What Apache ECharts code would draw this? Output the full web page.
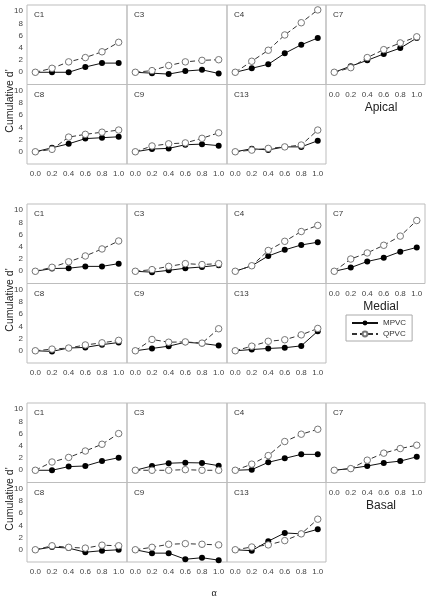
<!DOCTYPE html>
<html><head><meta charset="utf-8">
<script src="https://cdn.jsdelivr.net/npm/echarts@6/dist/echarts.min.js"></script>
<style>html,body{margin:0;padding:0;background:#fff}#c{width:432px;height:600px}</style>
</head><body><div id="c"></div>
<script>
const alpha = [0.0, 0.2, 0.4, 0.6, 0.8, 1.0];
const xTicks = [0.0, 0.2, 0.4, 0.6, 0.8, 1.0];
const yTicks = [0, 2, 4, 6, 8, 10];
const panels = ['C1', 'C3', 'C4', 'C7', 'C8', 'C9', 'C13'];
const regions = ['Apical', 'Medial', 'Basal'];
const seriesNames = ['MPVC', 'QPVC'];

// Apical
const apical_C1_MPVC = [0, 0, 0, 0.86, 1.5, 1.5];
const apical_C1_QPVC = [0, 0.65, 1.7, 2.4, 3.35, 4.9];
const apical_C3_MPVC = [0, -0.15, -0.3, 0.2, 0.4, -0.2];
const apical_C3_QPVC = [0, 0.27, 1.1, 1.7, 1.95, 2.05];
const apical_C4_MPVC = [0, 0.65, 1.3, 3.1, 4.5, 5.6];
const apical_C4_QPVC = [0, 1.8, 3.6, 6.1, 8.1, 10.2];
const apical_C7_MPVC = [0, 1.0, 1.95, 3.0, 3.95, 5.6];
const apical_C7_QPVC = [0, 0.75, 2.4, 3.7, 4.8, 5.8];
const apical_C8_MPVC = [0, 0.65, 1.3, 2.15, 2.3, 2.45];
const apical_C8_QPVC = [0, 0.4, 2.4, 2.85, 3.2, 3.55];
const apical_C9_MPVC = [0, 0.45, 0.55, 1.15, 1.25, 1.0];
const apical_C9_QPVC = [0, 0.95, 1.3, 1.45, 2.2, 3.1];
const apical_C13_MPVC = [0, 0.5, 0.3, 0.8, 0.8, 1.8];
const apical_C13_QPVC = [0, 0.27, 0.55, 0.8, 1.1, 3.55];

// Medial
const medial_C1_MPVC = [0, 0.45, 0.5, 0.8, 0.8, 1.25];
const medial_C1_QPVC = [0, 0.65, 1.55, 2.5, 3.65, 4.95];
const medial_C3_MPVC = [0, -0.15, 0.15, 0.5, 0.7, 1.0];
const medial_C3_QPVC = [0, 0.27, 0.8, 1.25, 1.1, 1.25];
const medial_C4_MPVC = [0, 0.9, 2.5, 3.5, 4.3, 4.75];
const medial_C4_QPVC = [0, 0.9, 3.4, 4.9, 6.5, 7.5];
const medial_C7_MPVC = [0, 0.6, 1.6, 2.2, 3.2, 3.9];
const medial_C7_QPVC = [0, 2.0, 3.0, 4.25, 5.75, 8.3];
const medial_C8_MPVC = [0, -0.1, 0.45, 0.55, 1.0, 1.35];
const medial_C8_QPVC = [0, 0.27, 0.45, 0.95, 1.3, 1.7];
const medial_C9_MPVC = [0, 0.38, 0.75, 1.4, 1.2, 0.85];
const medial_C9_QPVC = [0, 1.85, 1.4, 1.45, 1.25, 3.6];
const medial_C13_MPVC = [0, 0.2, 0.38, 0.5, 0.8, 3.2];
const medial_C13_QPVC = [0, 0.75, 1.55, 1.8, 2.6, 3.65];

// Basal
const basal_C1_MPVC = [0, 0, 0.6, 0.7, 1.5, 2.05];
const basal_C1_QPVC = [0, 1.35, 2.1, 3.15, 4.25, 6.0];
const basal_C3_MPVC = [0, 0.7, 1.15, 1.25, 1.2, 0.75];
const basal_C3_QPVC = [0, 0, 0, 0.1, 0, 0];
const basal_C4_MPVC = [0, 0.1, 1.3, 1.95, 2.6, 2.6];
const basal_C4_QPVC = [0, 1.0, 2.4, 4.7, 5.9, 6.7];
const basal_C7_MPVC = [0, 0.3, 0.7, 1.2, 1.5, 2.2];
const basal_C7_QPVC = [0, 0.27, 1.65, 2.8, 3.55, 4.1];
const basal_C8_MPVC = [0, 0.45, 0.27, -0.4, -0.15, 0];
const basal_C8_QPVC = [0, 0.65, 0.4, 0.27, 0.75, 0.65];
const basal_C9_MPVC = [0, -0.55, -0.55, -1.55, -1.3, -1.7];
const basal_C9_QPVC = [0, 0.4, 0.9, 1.0, 0.9, 0.8];
const basal_C13_MPVC = [0, -0.15, 1.4, 2.75, 2.6, 3.35];
const basal_C13_QPVC = [0, 0.45, 0.8, 1.5, 2.6, 5.0];

const dataTable = {
  Apical: {
    C1: [apical_C1_MPVC, apical_C1_QPVC], C3: [apical_C3_MPVC, apical_C3_QPVC],
    C4: [apical_C4_MPVC, apical_C4_QPVC], C7: [apical_C7_MPVC, apical_C7_QPVC],
    C8: [apical_C8_MPVC, apical_C8_QPVC], C9: [apical_C9_MPVC, apical_C9_QPVC],
    C13: [apical_C13_MPVC, apical_C13_QPVC]
  },
  Medial: {
    C1: [medial_C1_MPVC, medial_C1_QPVC], C3: [medial_C3_MPVC, medial_C3_QPVC],
    C4: [medial_C4_MPVC, medial_C4_QPVC], C7: [medial_C7_MPVC, medial_C7_QPVC],
    C8: [medial_C8_MPVC, medial_C8_QPVC], C9: [medial_C9_MPVC, medial_C9_QPVC],
    C13: [medial_C13_MPVC, medial_C13_QPVC]
  },
  Basal: {
    C1: [basal_C1_MPVC, basal_C1_QPVC], C3: [basal_C3_MPVC, basal_C3_QPVC],
    C4: [basal_C4_MPVC, basal_C4_QPVC], C7: [basal_C7_MPVC, basal_C7_QPVC],
    C8: [basal_C8_MPVC, basal_C8_QPVC], C9: [basal_C9_MPVC, basal_C9_QPVC],
    C13: [basal_C13_MPVC, basal_C13_QPVC]
  }
};

const colLeft = [27, 127, 227, 326];
const colWidth = [100, 100, 99, 99];
const rowH = 79.5;
const groupStep = 199;
const groupTop0 = 5;
const labelFont = 'Liberation Sans, Arial, sans-serif';
const tickColor = '#444';

const grids = [], xAxes = [], yAxes = [], series = [], graphics = [];
let gi = 0;
regions.forEach((reg, g) => {
  panels.forEach((p, pi) => {
    const row = pi < 4 ? 0 : 1;
    const col = pi < 4 ? pi : pi - 4;
    const top = groupTop0 + g * groupStep + row * rowH;
    const left = colLeft[col];
    grids.push({ left: left, top: top, width: colWidth[col], height: rowH,
      show: true, borderColor: '#bdbdbd', borderWidth: 1, backgroundColor: 'transparent' });
    const showX = (row === 1) || (col === 3);
    const showY = col === 0;
    xAxes.push({ type: 'value', gridIndex: gi, min: -0.1, max: 1.1,
      axisLine: { show: false }, axisTick: { show: false }, splitLine: { show: false },
      axisLabel: { show: showX, customValues: xTicks, formatter: v => v.toFixed(1),
        fontSize: 8, color: tickColor, fontFamily: labelFont, margin: 6 } });
    yAxes.push({ type: 'value', gridIndex: gi, min: -2, max: 11,
      axisLine: { show: false }, axisTick: { show: false }, splitLine: { show: false },
      axisLabel: { show: showY, customValues: yTicks, fontSize: 8, color: tickColor,
        fontFamily: labelFont, margin: 4 } });
    const vals = dataTable[reg][p];
    series.push({ name: 'MPVC', type: 'line', xAxisIndex: gi, yAxisIndex: gi,
      data: alpha.map((a, i) => [a, vals[0][i]]),
      symbol: 'circle', symbolSize: 6, showSymbol: true,
      lineStyle: { color: '#111', width: 1 }, itemStyle: { color: '#000' }, z: 3 });
    series.push({ name: 'QPVC', type: 'line', xAxisIndex: gi, yAxisIndex: gi,
      data: alpha.map((a, i) => [a, vals[1][i]]),
      symbol: 'circle', symbolSize: 6.5, showSymbol: true,
      lineStyle: { color: '#333', width: 1, type: [5, 3] },
      itemStyle: { color: '#fff', borderColor: '#777', borderWidth: 1 }, z: 4 });
    graphics.push({ type: 'text', left: left + 7, top: top + 6,
      style: { text: p, fontSize: 8, fill: '#333', fontFamily: labelFont } });
    gi++;
  });
  const gTop = groupTop0 + g * groupStep;
  graphics.push({ type: 'text', x: 381, y: gTop + 103,
    style: { text: reg, fontSize: 12, fill: '#222', fontFamily: labelFont, align: 'center', verticalAlign: 'middle' } });
  graphics.push({ type: 'text', x: 10, y: gTop + 96, rotation: Math.PI / 2,
    style: { text: "Cumulative d'", fontSize: 10.5, fill: '#222', fontFamily: labelFont, align: 'center', verticalAlign: 'middle' } });
});
graphics.push({ type: 'text', x: 214, y: 593,
  style: { text: 'α', fontSize: 10, fill: '#222', fontFamily: 'Liberation Serif, serif', align: 'center', verticalAlign: 'middle' } });

const chart = echarts.init(document.getElementById('c'), null, { renderer: 'canvas' });
chart.setOption({
  animation: false,
  backgroundColor: '#fff',
  grid: grids, xAxis: xAxes, yAxis: yAxes, series: series,
  legend: { data: seriesNames, left: 346, top: 315, orient: 'vertical',
    itemWidth: 26, itemHeight: 6, itemGap: 3, borderColor: '#aaa', borderWidth: 1,
    padding: [4, 6, 3, 5], textStyle: { fontSize: 8, color: '#333', fontFamily: labelFont } },
  graphic: graphics
});
</script></body></html>
